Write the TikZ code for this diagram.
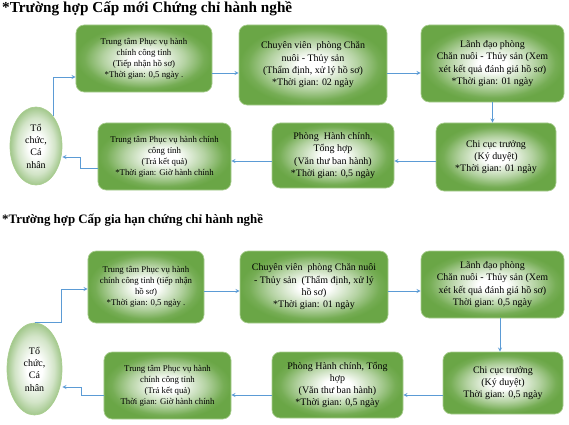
\documentclass[tikz,border=0pt]{standalone}
\usepackage{fontspec}
\setmainfont{Liberation Serif}
\usepackage{tikz}
\usetikzlibrary{shapes.geometric, arrows.meta}
\definecolor{boxgreen}{RGB}{106,166,70}
\definecolor{edgegreen}{RGB}{170,206,145}
\definecolor{linkblue}{RGB}{91,155,213}
\pgfdeclareradialshading{boxshade}{\pgfpoint{0bp}{0bp}}{color(0bp)=(white); color(5bp)=(white); color(15bp)=(boxgreen!50!white); color(22bp)=(boxgreen!92!white); color(25bp)=(boxgreen); color(50bp)=(boxgreen)}
\pgfdeclareradialshading{personshade}{\pgfpoint{0bp}{0bp}}{color(0bp)=(white); color(7bp)=(white); color(18bp)=(boxgreen!30!white); color(25bp)=(boxgreen!62!white); color(50bp)=(boxgreen!62!white)}
\tikzset{
  stepbox/.style={draw=edgegreen, line width=0.6pt, rounded corners=7pt, shading=boxshade, align=center, inner sep=2pt, font=\fontsize{8.5}{10.5}\selectfont},
  smallbox/.style={stepbox, font=\fontsize{7.5}{9.4}\selectfont},
  person/.style={ellipse, draw=edgegreen, line width=0.6pt, shading=personshade, align=center, inner sep=0pt, font=\fontsize{8.5}{10.5}\selectfont},
  link/.style={->,>=stealth, draw=linkblue, semithick},
  heading/.style={anchor=west, inner sep=0pt, font=\bfseries\fontsize{13}{15}\selectfont}
}
\begin{document}
\begin{tikzpicture}[x=0.03cm, y=-0.03cm]
            \useasboundingbox (0,0) rectangle (569,424);
            % truong hop cap moi
            \node[heading] (t1) at (2,9) {*Trường hợp Cấp mới Chứng chỉ hành nghề};
            \node[person, minimum width=1.56cm, minimum height=2.34cm] (A0) at (36,146) {Tổ\\ chức,\\ Cá\\ nhân};
            \node[smallbox, minimum width=4.08cm, minimum height=2.01cm] (A1) at (144,58.5) {Trung tâm Phục vụ hành\\ chính công tỉnh\\ (Tiếp nhận hồ sơ)\\ *Thời gian: 0,5 ngày .};
            \node[stepbox, minimum width=4.44cm, minimum height=2.40cm] (A2) at (313,65) {Chuyên viên~~phòng Chăn\\ nuôi - Thủy sản\\ (Thẩm định, xử lý hồ sơ)\\ *Thời gian: 02 ngày};
            \node[stepbox, minimum width=4.29cm, minimum height=2.31cm] (A3) at (492.5,63.5) {Lãnh đạo phòng\\ Chăn nuôi - Thủy sản (Xem\\ xét kết quả đánh giá hồ sơ)\\ *Thời gian: 01 ngày};
            \node[stepbox, minimum width=3.60cm, minimum height=2.04cm] (A4) at (496,157) {Chi cục trưởng\\ (Ký duyệt)\\ *Thời gian: 01 ngày};
            \node[stepbox, minimum width=3.66cm, minimum height=1.95cm] (A5) at (333,155.5) {Phòng~~Hành chính,\\ Tổng hợp\\ (Văn thư ban hành)\\ *Thời gian: 0,5 ngày};
            \node[smallbox, minimum width=3.99cm, minimum height=2.01cm] (A6) at (164.5,156.5) {Trung tâm Phục vụ hành chính\\ công tỉnh\\ (Trả kết quả)\\ *Thời gian: Giờ hành chính};
            \draw[link] (A0.60) |- (A1.west |- 0,77); %nop ho so
            \draw[link] (A1.east |- 0,73) -- (A2.west |- 0,73);
            \draw[link] (A2.east |- 0,73) -- (A3.west |- 0,73);
            \draw[link] (A3.south) -- (A4.north -| A3.south);
            \draw[link] (A4.west |- 0,161) -- (A5.east |- 0,161);
            \draw[link] (A5.west |- 0,161) -- (A6.east |- 0,161);
            \draw[link] (A6.west |- 0,168) -- ++(-17,0) |- (A0.east |- 0,157); %tra ket qua
            % truong hop cap gia han
            \node[heading, font=\bfseries\fontsize{11}{13}\selectfont] (t2) at (2,220) {*Trường hợp Cấp gia hạn chứng chỉ hành nghề};
            \node[person, minimum width=1.65cm, minimum height=2.76cm] (B0) at (34.5,369) {Tổ\\ chức,\\ Cá\\ nhân};
            \node[smallbox, minimum width=3.48cm, minimum height=2.16cm] (B1) at (146,287) {Trung tâm Phục vụ hành\\ chính công tỉnh (tiếp nhận\\ hồ sơ)\\ *Thời gian: 0,5 ngày .};
            \node[stepbox, minimum width=4.44cm, minimum height=2.16cm] (B2) at (314,287) {Chuyên viên~~phòng Chăn nuôi\\ - Thủy sản~~(Thẩm định, xử lý\\ hồ sơ)\\ *Thời gian: 01 ngày};
            \node[stepbox, minimum width=4.29cm, minimum height=2.01cm] (B3) at (492.5,284.5) {Lãnh đạo phòng\\ Chăn nuôi - Thủy sản (Xem\\ xét kết quả đánh giá hồ sơ)\\ Thời gian: 0,5 ngày};
            \node[stepbox, minimum width=3.60cm, minimum height=1.86cm] (B4) at (503,383) {Chi cục trưởng\\ (Ký duyệt)\\ Thời gian: 0,5 ngày};
            \node[stepbox, minimum width=3.93cm, minimum height=1.98cm] (B5) at (337.5,385) {Phòng Hành chính, Tổng\\ hợp\\ (Văn thư ban hành)\\ *Thời gian: 0,5 ngày};
            \node[smallbox, minimum width=3.81cm, minimum height=2.01cm] (B6) at (167.5,385.5) {Trung tâm Phục vụ hành\\ chính công tỉnh\\ (Trả kết quả)\\ Thời gian: Giờ hành chính};
            \draw[link] (B0.north) -- ++(27,0) |- (B1.west |- 0,289); %nop ho so
            \draw[link] (B1.east |- 0,291) -- (B2.west |- 0,291);
            \draw[link] (B2.east |- 0,291) -- (B3.west |- 0,291);
            \draw[link] (B3.south -| 500,0) -- (B4.north -| 500,0);
            \draw[link] (B4.west |- 0,395) -- (B5.east |- 0,395);
            \draw[link] (B5.west |- 0,395) -- (B6.east |- 0,395);
            \draw[link] (B6.west |- 0,395) -- ++(-22,0) |- (B0.east |- 0,387); %tra ket qua
        \end{tikzpicture}
\end{document}
